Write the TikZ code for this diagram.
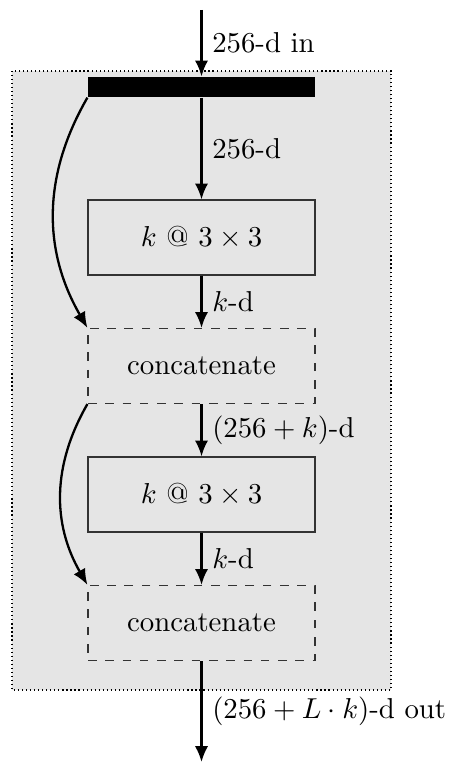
\documentclass[tikz,border=0pt]{standalone}
\usepackage{amsmath,amssymb}
\usetikzlibrary{shapes,arrows.meta,positioning,calc}

\begin{document}
\begin{tikzpicture}[
    layer/.style={rectangle, draw=black!80, minimum width=2.77cm, minimum height=0.915cm,
                  inner sep=0pt, align=center},
    concat/.style={layer, dashed},
    split/.style={rectangle, fill=black, minimum width=2.77cm, minimum height=0.244cm, inner sep=0pt},
    arrow/.style={-{Latex[length=5.5pt,width=4.6pt]}, thick}]

\useasboundingbox (-2.459,0) rectangle (3.032,-9.311);

% Block background
\draw[densely dotted, fill=gray!20] (-2.312,-0.866) rectangle (2.312,-8.420);

% Nodes
\coordinate (in) at (0,-0.122);
\node[split] (bar) at (0,-1.062) {};
\node[layer] (conv1) at (0,-2.898) {$k$ @ $3\times3$};
\node[concat] (cat1) at (0,-4.466) {concatenate};
\node[layer] (conv2) at (0,-6.034) {$k$ @ $3\times3$};
\node[concat] (cat2) at (0,-7.602) {concatenate};
\coordinate (out) at (0,-9.299);

% Arrows
\draw[arrow] (in) -- (bar.north) node[midway, right] {256-d in};
\draw[arrow] (bar.south) -- (conv1.north) node[midway, right] {256-d};
\draw[arrow] (conv1.south) -- (cat1.north) node[midway, right] {$k$-d};
\draw[arrow] (cat1.south) -- (conv2.north) node[midway, right] {$(256+k)$-d};
\draw[arrow] (conv2.south) -- (cat2.north) node[midway, right] {$k$-d};
\draw[arrow] (cat2.south) -- (out) node[midway, right] {$(256+L\cdot k)$-d out};

% Skip connections
\draw[arrow] (bar.south west) to[bend right=30] (cat1.north west);
\draw[arrow] (cat1.south west) to[bend right=30] (cat2.north west);
\end{tikzpicture}
\end{document}
